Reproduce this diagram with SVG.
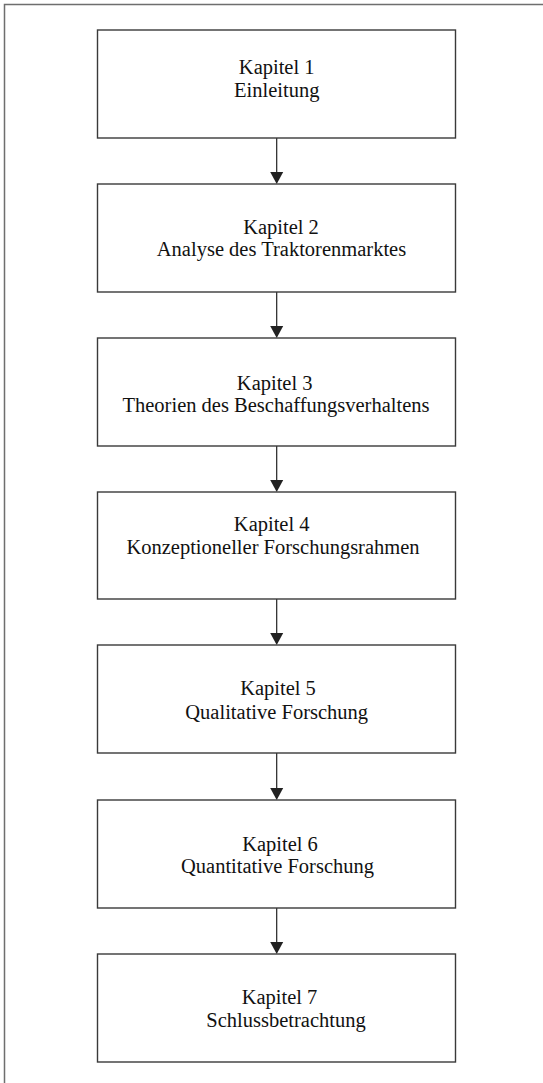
<svg xmlns="http://www.w3.org/2000/svg" width="543" height="1083" viewBox="0 0 543 1083">
<style>
.frame{fill:none;stroke:#6e6e6e;stroke-width:1.5}
.box{fill:#fff;stroke:#3a3a3a;stroke-width:1.4}
.t{font-family:"Liberation Serif","Times New Roman",serif;font-size:20.5px;fill:#111;text-anchor:middle}
.c{stroke:#222;stroke-width:1.2;fill:none}
.h{fill:#222}
</style>
<rect width="543" height="1083" fill="#fff"/>
<path class="frame" d="M4.5,1083 V4.5 H543"/>
<g id="connectors">
<line class="c" x1="276.7" y1="138" x2="276.7" y2="173"/><path class="h" d="M270.2,172 L283.2,172 L276.7,184 Z"/>
<line class="c" x1="276.7" y1="292" x2="276.7" y2="327"/><path class="h" d="M270.2,326 L283.2,326 L276.7,338 Z"/>
<line class="c" x1="276.7" y1="446" x2="276.7" y2="481"/><path class="h" d="M270.2,480 L283.2,480 L276.7,492 Z"/>
<line class="c" x1="276.7" y1="599" x2="276.7" y2="634"/><path class="h" d="M270.2,633 L283.2,633 L276.7,645 Z"/>
<line class="c" x1="276.7" y1="753" x2="276.7" y2="789"/><path class="h" d="M270.2,788 L283.2,788 L276.7,800 Z"/>
<line class="c" x1="276.7" y1="908" x2="276.7" y2="943"/><path class="h" d="M270.2,942 L283.2,942 L276.7,954 Z"/>
</g>
<g id="k1"><rect class="box" x="97.5" y="30" width="358" height="108"/><text class="t" x="276.7" y="74">Kapitel 1</text><text class="t" x="276.7" y="97">Einleitung</text></g>
<g id="k2"><rect class="box" x="97.5" y="184" width="358" height="108"/><text class="t" x="281" y="234">Kapitel 2</text><text class="t" x="281.5" y="256">Analyse des Traktorenmarktes</text></g>
<g id="k3"><rect class="box" x="97.5" y="338" width="358" height="108"/><text class="t" x="274.7" y="390">Kapitel 3</text><text class="t" x="276" y="412">Theorien des Beschaffungsverhaltens</text></g>
<g id="k4"><rect class="box" x="97.5" y="492" width="358" height="107"/><text class="t" x="271.7" y="531">Kapitel 4</text><text class="t" x="273" y="554">Konzeptioneller Forschungsrahmen</text></g>
<g id="k5"><rect class="box" x="97.5" y="645" width="358" height="108"/><text class="t" x="278" y="695">Kapitel 5</text><text class="t" x="276.7" y="719">Qualitative Forschung</text></g>
<g id="k6"><rect class="box" x="97.5" y="800" width="358" height="108"/><text class="t" x="280" y="851">Kapitel 6</text><text class="t" x="277.5" y="873">Quantitative Forschung</text></g>
<g id="k7"><rect class="box" x="97.5" y="954" width="358" height="108"/><text class="t" x="279.5" y="1004">Kapitel 7</text><text class="t" x="286" y="1027">Schlussbetrachtung</text></g>
</svg>
